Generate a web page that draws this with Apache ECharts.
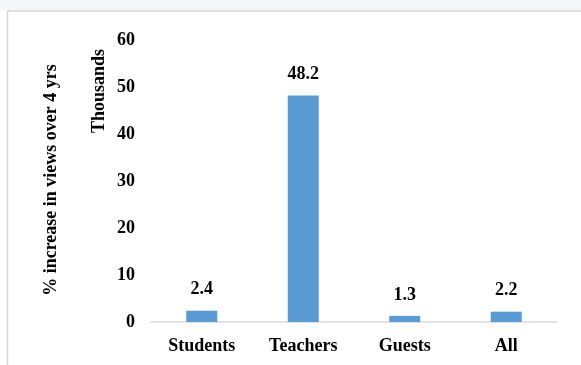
<!DOCTYPE html>
<html>
<head>
<meta charset="utf-8">
<script src="https://cdn.jsdelivr.net/npm/echarts@6/dist/echarts.min.js"></script>
<style>
  html, body { margin: 0; padding: 0; background: #ffffff; }
  #chart { width: 581px; height: 365px; }
</style>
</head>
<body>
<div id="chart"></div>
<script>
// Categories and values (thousands of % increase in views)
const categories = ['Students', 'Teachers', 'Guests', 'All'];
const increaseValues = [2.4, 48.2, 1.3, 2.2];
const yTicks = { min: 0, max: 60, interval: 10 };
const axisTitle = '% increase in views over 4 yrs';
const unitsLabel = 'Thousands';

const FONT = '"Liberation Serif", "Times New Roman", serif';
const textBase = { fontFamily: FONT, fontWeight: 'bold', fontSize: 18, color: '#000000' };

const chart = echarts.init(document.getElementById('chart'), null, { renderer: 'canvas' });

chart.setOption({
  backgroundColor: '#ffffff',
  animation: false,
  grid: { left: 151, right: 24, top: 40, bottom: 43 },
  xAxis: {
    type: 'category',
    data: categories,
    axisLine: { show: true, lineStyle: { color: '#d9d9d9', width: 1.5 } },
    axisTick: { show: false },
    axisLabel: Object.assign({ margin: 15 }, textBase)
  },
  yAxis: {
    type: 'value',
    min: yTicks.min,
    max: yTicks.max,
    interval: yTicks.interval,
    axisLine: { show: false },
    axisTick: { show: false },
    splitLine: { show: false },
    axisLabel: Object.assign({ margin: 16 }, textBase)
  },
  series: [{
    type: 'bar',
    data: increaseValues,
    barWidth: 31,
    itemStyle: { color: '#5b9bd5' },
    label: Object.assign({
      show: true,
      position: 'top',
      distance: 12,
      formatter: p => p.value.toFixed(1)
    }, textBase)
  }],
  graphic: [
    // pale strip above the frame
    { type: 'rect', silent: true, z: -10,
      shape: { x: 0, y: 0, width: 581, height: 10 },
      style: { fill: '#f5f8fb' } },
    // frame lines
    { type: 'line', silent: true,
      shape: { x1: 7.5, y1: 11, x2: 581, y2: 11 },
      style: { stroke: '#d6d6d6', lineWidth: 1.5 } },
    { type: 'line', silent: true,
      shape: { x1: 7.5, y1: 11, x2: 7.5, y2: 365 },
      style: { stroke: '#d6d6d6', lineWidth: 1.5 } },
    // axis titles
    { type: 'text', silent: true,
      x: 51, y: 180, rotation: Math.PI / 2,
      style: { text: axisTitle, align: 'center', verticalAlign: 'middle',
               font: 'bold 18px ' + FONT, fill: '#000000' } },
    { type: 'text', silent: true,
      x: 99, y: 91, rotation: Math.PI / 2,
      style: { text: unitsLabel, align: 'center', verticalAlign: 'middle',
               font: 'bold 18px ' + FONT, fill: '#000000' } }
  ]
});
</script>
</body>
</html>
